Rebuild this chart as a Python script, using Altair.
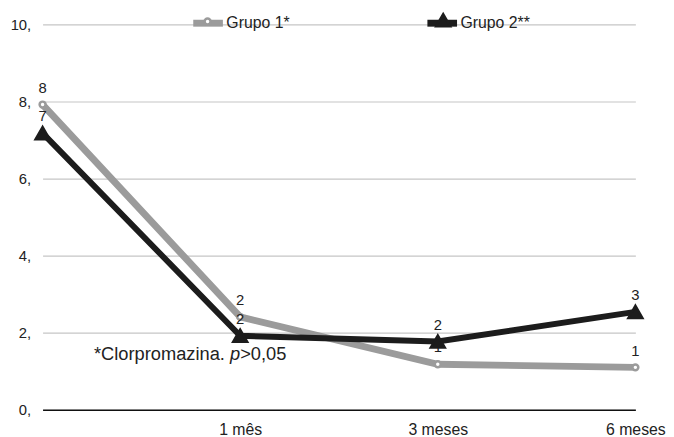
import altair as alt
import pandas as pd

momentos = ["Início", "1 mês", "3 meses", "6 meses"]
series = ["Grupo 1*", "Grupo 2**"]
grupo1 = [7.92, 2.41, 1.18, 1.10]
grupo2 = [7.18, 1.92, 1.77, 2.54]
y_ticks = [0, 2, 4, 6, 8, 10]
nota = ["*Clorpromazina. ", "p", ">0,05"]

rows = []
for s, vals in zip(series, [grupo1, grupo2]):
    for m, v in zip(momentos, vals):
        rows.append({"momento": m, "serie": s, "serie_m": s + " ", "valor": v})
df = pd.DataFrame(rows)
series_m = [s + " " for s in series]

FONT = "Liberation Sans"
GRAY = "#9b9b9b"
BLACK = "#1c1c1c"
TEXT = "#222222"

x_enc = alt.X(
    "momento:N", sort=momentos, scale=alt.Scale(type="point", padding=0),
    axis=alt.Axis(title=None, labelAngle=0,
                  labelExpr="datum.label == 'Início' ? '' : datum.label",
                  ticks=False, tickSize=0, domainColor="#111111", domainWidth=1.4,
                  labelFontSize=16, labelPadding=12, labelColor=TEXT,
                  labelFont=FONT, grid=False, zindex=1))
y_enc = alt.Y(
    "valor:Q", scale=alt.Scale(domain=[0, 10], nice=False),
    axis=alt.Axis(title=None, values=y_ticks, labelExpr="datum.value + ','",
                  domain=False, ticks=False, tickSize=0, grid=True,
                  gridColor="#c6c6c6", gridWidth=1.2, labelFontSize=15,
                  labelPadding=12, labelColor=TEXT, labelFont=FONT))

leg_lines = alt.Legend(title=None, orient="none", legendX=149, legendY=-20,
                       direction="horizontal", symbolType="stroke",
                       symbolSize=900, symbolStrokeWidth=7, labelFontSize=16,
                       labelFont=FONT, labelColor=TEXT, labelOffset=0,
                       columnPadding=124, labelLimit=300)
leg_marks = alt.Legend(title=None, orient="none", legendX=159, legendY=-13,
                       direction="horizontal", symbolStrokeWidth=2.5,
                       symbolOpacity=1, labelFontSize=16, labelFont=FONT,
                       labelExpr="''", labelOffset=0, columnPadding=218,
                       labelLimit=300)

color_enc = alt.Color("serie:N", scale=alt.Scale(domain=series, range=[GRAY, BLACK]),
                      legend=leg_lines)
fill_enc = alt.Fill("serie_m:N", scale=alt.Scale(domain=series_m, range=["#ffffff", BLACK]),
                    legend=leg_marks)
stroke_enc = alt.Stroke("serie_m:N", scale=alt.Scale(domain=series_m, range=[GRAY, BLACK]),
                        legend=leg_marks)
shape_enc = alt.Shape("serie_m:N", scale=alt.Scale(domain=series_m, range=["circle", "triangle-up"]),
                      legend=leg_marks)
size_enc = alt.Size("serie_m:N", scale=alt.Scale(domain=series_m, range=[36, 200]),
                    legend=leg_marks)

base = alt.Chart(df)
layers = []
for s, sw in zip(series, [7, 6]):
    sub = base.transform_filter(alt.datum.serie == s)
    layers.append(sub.mark_line(strokeWidth=sw, strokeJoin="miter")
                  .encode(x=x_enc, y=y_enc, color=color_enc))
    layers.append(sub.mark_point(opacity=1, strokeWidth=2.5)
                  .encode(x=x_enc, y=y_enc, fill=fill_enc, stroke=stroke_enc,
                          shape=shape_enc, size=size_enc))
    layers.append(sub.mark_text(dy=-17, fontSize=15, font=FONT, color=TEXT)
                  .encode(x=x_enc, y=y_enc, text=alt.Text("valor:Q", format=".0f")))

note_base = alt.Chart(pd.DataFrame({"k": [0]}))
for txt, dxv, style in zip(nota, [52, 189.7, 200], ["normal", "italic", "normal"]):
    layers.append(note_base.mark_text(text=txt, align="left", baseline="middle",
                                      fontSize=18.5, font=FONT, color=TEXT,
                                      fontStyle=style)
                  .encode(x=alt.value(dxv), y=alt.value(334)))

chart = alt.layer(*layers).properties(
    width=600, height=390,
    padding={"left": 35, "top": 14, "right": 31, "bottom": 30},
    autosize=alt.AutoSizeParams(type="none"),
    background="white",
).configure_view(stroke=None)

chart.save("out.html", embed_options={"renderer": "svg", "actions": False})
